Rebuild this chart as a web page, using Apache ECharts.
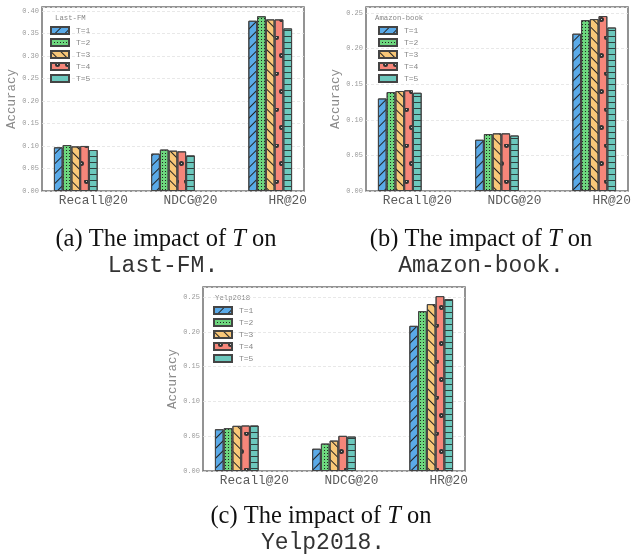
<!DOCTYPE html>
<html><head><meta charset="utf-8">
<script src="https://cdn.jsdelivr.net/npm/echarts@6/dist/echarts.min.js"></script>
<style>html,body{margin:0;padding:0;background:#fff}#c{width:631px;height:556px}</style>
</head><body><div id="c"></div>
<script>
// ---- data ----
const categories = ['Recall@20', 'NDCG@20', 'HR@20'];
const seriesNames = ['T=1', 'T=2', 'T=3', 'T=4', 'T=5'];
const datasetNames = ['Last-FM', 'Amazon-book', 'Yelp2018'];
const yTickLabels = ['0.00','0.05','0.10','0.15','0.20','0.25','0.30','0.35','0.40'];

const lastfmT1 = [0.097, 0.083, 0.378];
const lastfmT2 = [0.102, 0.092, 0.388];
const lastfmT3 = [0.099, 0.0895, 0.381];
const lastfmT4 = [0.100, 0.088, 0.381];
const lastfmT5 = [0.091, 0.079, 0.361];

const amazonT1 = [0.130, 0.072, 0.221];
const amazonT2 = [0.139, 0.080, 0.240];
const amazonT3 = [0.1405, 0.081, 0.2415];
const amazonT4 = [0.1415, 0.081, 0.2458];
const amazonT5 = [0.138, 0.078, 0.2297];

const yelpT1 = [0.060, 0.032, 0.2086];
const yelpT2 = [0.0615, 0.0394, 0.2297];
const yelpT3 = [0.0649, 0.0437, 0.2398];
const yelpT4 = [0.0654, 0.0505, 0.2513];
const yelpT5 = [0.0654, 0.0495, 0.247];

const lastfmSeries = [lastfmT1, lastfmT2, lastfmT3, lastfmT4, lastfmT5];
const amazonSeries = [amazonT1, amazonT2, amazonT3, amazonT4, amazonT5];
const yelpSeries = [yelpT1, yelpT2, yelpT3, yelpT4, yelpT5];

// ---- styles / layout ----
const colors = ['#5aaae8', '#6dd67e', '#f8c778', '#f6867a', '#6cc8bd'];
const hatchColor = '#222';
const decals = [
  { symbol: 'rect', symbolSize: 1, dashArrayX: [1, 0], dashArrayY: [1, 6], rotation: -Math.PI / 4, color: hatchColor },
  { symbol: 'rect', symbolSize: 1, dashArrayX: [1, 2], dashArrayY: [1, 2], color: hatchColor },
  { symbol: 'rect', symbolSize: 1, dashArrayX: [1, 0], dashArrayY: [1, 6], rotation: Math.PI / 4, color: hatchColor },
  { symbol: 'emptyCircle', symbolSize: 1, dashArrayX: [[3, 7], [0, 5, 3, 2]], dashArrayY: [3, 15], color: '#333' },
  { symbol: 'rect', symbolSize: 1, dashArrayX: [1, 0], dashArrayY: [1, 4.8], color: '#2f3f3c' }
];
const mono = '"Liberation Mono", "DejaVu Sans Mono", monospace';
const serif = '"Liberation Serif", "DejaVu Serif", serif';

const panels = [
  { values: lastfmSeries, yMax: 0.4085, grid: { left: 42, top: 7, width: 262, height: 184 }, legend: { left: 50, top: 26 }, ltitle: [55, 18], tag: '(a)', cap: [166, 240, 163, 266] },
  { values: amazonSeries, yMax: 0.2585, grid: { left: 366, top: 7, width: 262, height: 184 }, legend: { left: 378, top: 26 }, ltitle: [375, 18], tag: '(b)', cap: [481, 240, 481, 266] },
  { values: yelpSeries, yMax: 0.2644, grid: { left: 203, top: 287, width: 262, height: 184 }, legend: { left: 213, top: 306 }, ltitle: [215, 298], tag: '(c)', cap: [321, 517, 323, 543] }
];

const grid = [], xAxis = [], yAxis = [], series = [], legend = [], graphic = [];

panels.forEach((p, k) => {
  grid.push(Object.assign({ show: true, borderColor: '#707070', borderWidth: 1.5, backgroundColor: '#fff', containLabel: false, outerBoundsMode: 'none' }, p.grid));
  xAxis.push({
    type: 'value', gridIndex: k, min: -0.5275, max: 2.1675,
    axisLine: { show: false }, axisTick: { show: false }, splitLine: { show: false },
    axisLabel: { customValues: [0, 1, 2], formatter: v => categories[Math.round(v)], fontFamily: mono, fontSize: 12.8, color: '#5a5a5a', margin: 3 }
  });
  yAxis.push({
    type: 'value', gridIndex: k, min: 0, max: p.yMax, interval: 0.05,
    name: 'Accuracy', nameLocation: 'middle', nameGap: 22,
    nameTextStyle: { fontFamily: mono, fontSize: 12.5, color: '#8a8a8a' },
    axisLine: { show: false }, axisTick: { show: false },
    splitLine: { show: true, lineStyle: { color: '#e2e2e2', type: [3, 2], width: 0.8 } },
    axisLabel: { showMaxLabel: false, formatter: v => yTickLabels[Math.round(v / 0.05)] || '', fontFamily: mono, fontSize: 7, color: '#9a9a9a', margin: 3 }
  });
  p.values.forEach((vals, i) => {
    series.push({
      type: 'bar', name: seriesNames[i], xAxisIndex: k, yAxisIndex: k,
      barWidth: '9%', barGap: '0%',
      data: vals.map((v, j) => [j, v]),
      itemStyle: { color: colors[i], borderColor: '#444', borderWidth: 1, decal: decals[i] }
    });
  });
  // empty slots so the T=5 bar sits on the category tick (as in the source figure)
  for (let d = 0; d < 4; d++) {
    series.push({
      type: 'bar', name: '', xAxisIndex: k, yAxisIndex: k, barWidth: '9%', barGap: '0%', silent: true,
      data: categories.map((c, j) => [j, 0]),
      itemStyle: { color: 'rgba(0,0,0,0)', borderWidth: 0 }
    });
  }
  legend.push(Object.assign({
    orient: 'vertical', data: seriesNames, icon: 'rect', itemWidth: 18, itemHeight: 7, itemGap: 3, padding: 0,
    selectedMode: false,
    textStyle: { fontFamily: mono, fontSize: 8, color: '#888', padding: [0, 0, 0, 2] }
  }, p.legend));
  graphic.push({ type: 'text', x: p.ltitle[0], y: p.ltitle[1], style: { text: datasetNames[k], fontFamily: mono, fontSize: 7.3, fill: '#888', align: 'left', verticalAlign: 'middle' } });
  graphic.push({ type: 'text', x: p.cap[0], y: p.cap[1], style: {
    text: p.tag + ' The impact of {it|T} on', fontFamily: serif, fontSize: 24.5, fill: '#111', align: 'center', verticalAlign: 'middle',
    rich: { it: { fontFamily: serif, fontSize: 24.5, fontStyle: 'italic', fill: '#111' } } } });
  graphic.push({ type: 'text', x: p.cap[2], y: p.cap[3], style: { text: datasetNames[k] + '.', fontFamily: mono, fontSize: 23, fill: '#333', align: 'center', verticalAlign: 'middle' } });
});

const chart = echarts.init(document.getElementById('c'), null, { renderer: 'canvas' });
chart.setOption({ backgroundColor: '#fff', animation: false, grid, xAxis, yAxis, series, legend, graphic });
</script></body></html>
